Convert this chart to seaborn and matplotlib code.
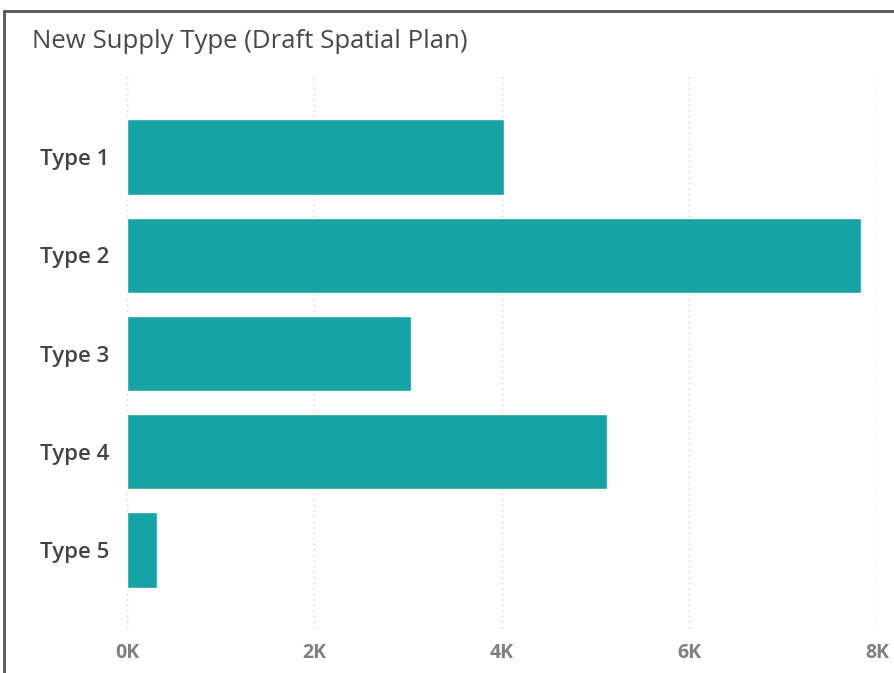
import matplotlib
matplotlib.use("Agg")
import matplotlib.pyplot as plt
from matplotlib.patches import Rectangle
from matplotlib.ticker import FuncFormatter
import seaborn as sns
import pandas as pd

title = "New Supply Type (Draft Spatial Plan)"
categories = ["Type 1", "Type 2", "Type 3", "Type 4", "Type 5"]
values = [4020, 7830, 3030, 5120, 320]
x_ticks = [0, 2000, 4000, 6000, 8000]

df = pd.DataFrame({"type": categories, "value": values})

sns.set_theme(style="white")
plt.rcParams["font.family"] = ["Open Sans", "DejaVu Sans"]

fig = plt.figure(figsize=(8.95, 6.73), dpi=100)
W, H = 895, 673
left, right = 127, 877
top, bottom = 75, 628
ax = fig.add_axes([left / W, 1 - bottom / H, (right - left) / W, (bottom - top) / H])

sns.barplot(data=df, y="type", x="value", orient="h", color="#17A2A6",
            saturation=1, width=0.77, ax=ax)

ax.set_xlim(0, 8000)
# category 0 at y=157px, step 98px
ax.set_ylim(4 + (bottom - 550) / 98, -(157 - top) / 98)
ax.set_xticks(x_ticks)
ax.xaxis.set_major_formatter(FuncFormatter(lambda v, p: f"{int(v/1000)}K"))
ax.grid(axis="x", linestyle=(0, (1, 3)), color="#d0d0d0", linewidth=1)
ax.set_axisbelow(True)
for s in ax.spines.values():
    s.set_visible(False)
ax.set_xlabel("")
ax.set_ylabel("")
ax.tick_params(axis="x", length=0, pad=11, labelsize=14, labelcolor="#808080")
ax.tick_params(axis="y", length=0, pad=13, labelsize=16, labelcolor="#444444")

fig.text(32 / W, 1 - 42 / H, title, fontsize=18.5, color="#484848",
         ha="left", va="center")

fig.patches.append(Rectangle((4 / W, -0.1), 1.2, 1 - 11 / H + 0.1,
                             transform=fig.transFigure, fill=False,
                             edgecolor="#555555", linewidth=2))

fig.canvas.draw()
for t in ax.get_xticklabels():
    t.set_fontweight("bold")
for t in ax.get_yticklabels():
    t.set_fontweight("semibold")

fig.savefig("out.png", dpi=100, facecolor="white")
